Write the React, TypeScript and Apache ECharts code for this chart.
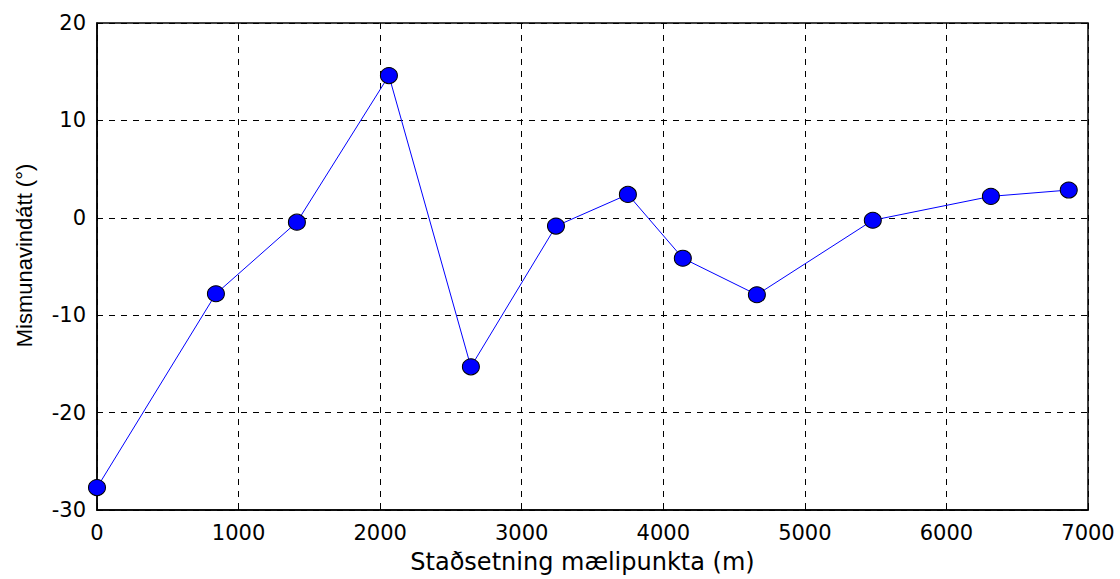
import React, { useEffect, useRef } from "react";
import * as echarts from "echarts";

const positions = [0, 840, 1412, 2062, 2641, 3242, 3750, 4138, 4661, 5480, 6314, 6864];
const angles = [-27.7, -7.8, -0.45, 14.6, -15.3, -0.85, 2.4, -4.15, -7.9, -0.25, 2.2, 2.85];
const xTitle = "Staðsetning mælipunkta (m)";
const yTitle = "Mismunavindátt (°)";

export default function App() {
  const ref = useRef<HTMLDivElement>(null);
  useEffect(() => {
    if (!ref.current) return;
    const chart = echarts.init(ref.current, null, { renderer: "svg" });
    const wide = "'DejaVu Sans', sans-serif";
    const narrow = "'Liberation Sans', Arial, sans-serif";
    chart.setOption({
      animation: false,
      backgroundColor: "#ffffff",
      grid: {
        left: 97,
        right: 32,
        top: 23,
        bottom: 69,
        show: true,
        borderColor: "#000",
        borderWidth: 1.5,
        backgroundColor: "transparent",
      },
      xAxis: {
        type: "value",
        min: 0,
        max: 7000,
        interval: 1000,
        name: xTitle,
        nameLocation: "middle",
        nameGap: 40,
        nameTextStyle: { fontFamily: wide, fontSize: 24, color: "#000", padding: [0, 20, 0, 0] },
        axisLine: { show: true, onZero: false, lineStyle: { color: "#000", width: 1.5 } },
        axisTick: { show: true, inside: true, length: 5, lineStyle: { color: "#000" } },
        axisLabel: {
          fontFamily: wide,
          fontSize: 21,
          color: "#000",
          margin: 12,
          formatter: (v: number) => String(v),
        },
        splitLine: { show: true, lineStyle: { color: "#000", type: [6, 6], width: 1 } },
      },
      yAxis: {
        type: "value",
        min: -30,
        max: 20,
        interval: 10,
        name: yTitle,
        nameLocation: "middle",
        nameGap: 62,
        nameTextStyle: { fontFamily: narrow, fontSize: 22, color: "#000", padding: [0, 0, 0, 22] },
        axisLine: { show: true, onZero: false, lineStyle: { color: "#000", width: 1.5 } },
        axisTick: { show: true, inside: true, length: 5, lineStyle: { color: "#000" } },
        axisLabel: {
          fontFamily: wide,
          fontSize: 21,
          color: "#000",
          margin: 11,
          formatter: (v: number) => String(v),
        },
        splitLine: { show: true, lineStyle: { color: "#000", type: [6, 6], width: 1 } },
      },
      series: [
        {
          type: "line",
          data: positions.map((p, i) => [p, angles[i]]),
          symbol: "circle",
          symbolSize: [17, 16],
          lineStyle: { color: "#0000ff", width: 1 },
          itemStyle: { color: "#0000ff", borderColor: "#000", borderWidth: 1 },
          clip: false,
        },
      ],
    });
    return () => chart.dispose();
  }, []);
  return (
    <div
      ref={ref}
      style={{ position: "absolute", left: 0, top: 0, width: 1120, height: 579 }}
    />
  );
}
